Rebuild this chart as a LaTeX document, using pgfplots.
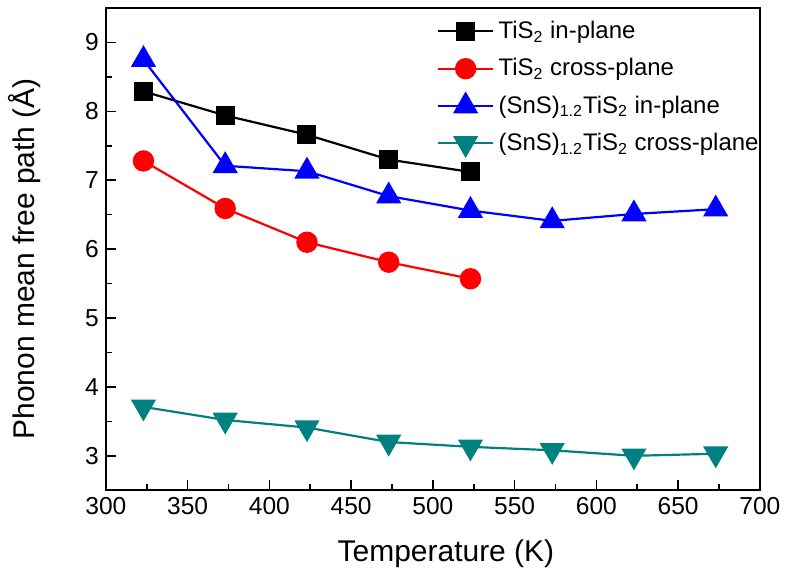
\documentclass[border=0pt]{standalone}
\usepackage{fontspec}
\setmainfont{Liberation Sans}
\usepackage{pgfplots}
\pgfplotsset{compat=1.18}
\definecolor{tealc}{RGB}{0,128,128}

\begin{document}
\begin{tikzpicture}
\begin{axis}[
    scale only axis,
    width=327.5pt, height=241.5pt,
    xmin=300, xmax=700, ymin=2.5, ymax=9.5,
    xtick={300,350,...,700}, ytick={3,4,...,9},
    minor x tick num=1, minor y tick num=1,
    tick align=inside, xtick pos=bottom, ytick pos=left,
    major tick length=5pt, minor tick length=3pt,
    axis line style={line width=1pt},
    every tick/.style={line width=0.8pt, black},
    /pgf/number format/assume math mode=true,
    /pgf/number format/1000 sep={},
    tick label style={font=\fontsize{12.3}{14}\selectfont},
    label style={font=\fontsize{15}{18}\selectfont},
    xlabel={Temperature (K)},
    ylabel={Phonon mean free path (Å)},
    xlabel style={at={(axis description cs:0.52,-0.1325)}, anchor=center},
    ylabel style={at={(axis description cs:-0.1237,0.48)}, anchor=center},
    legend style={draw=none, fill=none, at={(axis description cs:0.497,0.99)}, anchor=north west,
        font=\fontsize{12}{14}\selectfont, row sep=4.5pt, legend cell align=left},
    legend image code/.code={\draw[mark repeat=2,mark phase=2] plot coordinates {(0cm,0cm) (0.48cm,0cm) (0.97cm,0cm)};},
]
\addplot[black, line width=1.1pt, mark=square*, mark size=4.2pt, mark options={solid}] coordinates {
    (323,8.29) (373,7.94) (423,7.66) (473,7.30) (523,7.12)
};
\addlegendentry{TiS\textsubscript{2} in-plane}
\addplot[red, line width=1.1pt, mark=*, mark size=4.8pt] coordinates {
    (323,7.28) (373,6.59) (423,6.10) (473,5.81) (523,5.57)
};
\addlegendentry{TiS\textsubscript{2} cross-plane}
\addplot[blue, line width=1.1pt, mark=triangle*, mark size=6.2pt] coordinates {
    (323,8.75) (373,7.21) (423,7.13) (473,6.77) (523,6.56) (573,6.41) (623,6.51) (673,6.58)
};
\addlegendentry{(SnS)\textsubscript{1.2}TiS\textsubscript{2} in-plane}
\addplot[tealc, line width=1.1pt, mark=triangle*, mark size=6.2pt, mark options={rotate=180}] coordinates {
    (323,3.71) (373,3.52) (423,3.41) (473,3.20) (523,3.13) (573,3.08) (623,3.00) (673,3.03)
};
\addlegendentry{(SnS)\textsubscript{1.2}TiS\textsubscript{2} cross-plane}
\end{axis}
\path (current axis.south west) ++(-53pt,-44.5pt) rectangle ([shift={(13pt,4pt)}]current axis.north east);
\end{tikzpicture}
\end{document}
